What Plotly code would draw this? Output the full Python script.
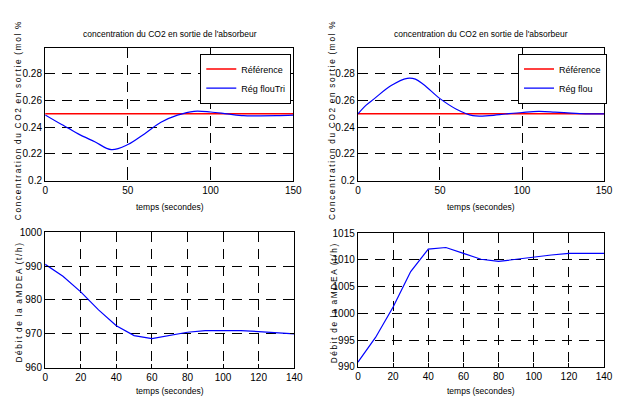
import plotly.graph_objects as go

# ---------------- data ----------------
t_top = [0, 10, 14, 20, 30, 40, 50, 60, 70, 80, 90, 100, 110, 120, 130, 140, 150]
co2_tri = [0.2492, 0.2420, 0.2393, 0.2350, 0.2291, 0.2232, 0.2270, 0.2350, 0.2437, 0.2490,
           0.2519, 0.2514, 0.2500, 0.2486, 0.2485, 0.2486, 0.2490]

t_top2 = [0, 5, 10, 20, 30, 35, 40, 50, 60, 70, 80, 90, 100, 110, 120, 130, 140, 150]
co2_flou = [0.2500, 0.2565, 0.2614, 0.2710, 0.2766, 0.2760, 0.2720, 0.2614, 0.2535, 0.2487,
            0.2487, 0.2499, 0.2510, 0.2518, 0.2513, 0.2506, 0.2500, 0.2500]

t_ref = [0, 150]
co2_ref = [0.25, 0.25]

t_bot = [0, 10, 20, 30, 40, 50, 60, 70, 80, 90, 100, 110, 120, 130, 140]
debit_tri = [990.5, 987.0, 982.4, 977.1, 972.4, 969.5, 968.6, 969.5, 970.5, 971.0,
             971.1, 971.0, 970.7, 970.3, 970.0]
debit_flou = [990.9, 995.5, 1001.2, 1007.8, 1012.0, 1012.3, 1011.2, 1010.1, 1009.7, 1010.1,
              1010.6, 1010.9, 1011.2, 1011.2, 1011.2]

top_xticks = [0, 50, 100, 150]
top_yticks = [0.2, 0.22, 0.24, 0.26, 0.28]
top_yticktext = ["0.2", "0.22", "0.24", "0.26", "0.28"]
bot_xticks = [0, 20, 40, 60, 80, 100, 120, 140]
botl_yticks = [960, 970, 980, 990, 1000]
botr_yticks = [990, 995, 1000, 1005, 1010, 1015]

title_txt = "concentration du CO2 en sortie de l'absorbeur"
xlab_txt = "temps (secondes)"
TS = "\u2009"  # thin space between letters
def spaced(words):
    return "  ".join(TS.join(list(w)) for w in words)
ylab_top = spaced(["Concentration", "du", "CO2", "en", "sortie", "(mol", "%"])
ylab_bot = spaced(["Débit", "de", "la", "aMDEA", "(t/h)"])

# ---------------- figure ----------------
W, H = 617, 403
FONT = "Liberation Sans, Arial, sans-serif"

def px(x):
    return x / W

def py(y):
    return 1 - y / H

fig = go.Figure()

fig.add_trace(go.Scatter(x=t_ref, y=co2_ref, mode="lines", name="Référence",
                         line=dict(color="#ff0000", width=1.5), xaxis="x", yaxis="y", legend="legend"))
fig.add_trace(go.Scatter(x=t_top, y=co2_tri, mode="lines", name="Rég flouTri", line_shape="spline",
                         line=dict(color="#0000ff", width=1.2), xaxis="x", yaxis="y", legend="legend"))
fig.add_trace(go.Scatter(x=t_ref, y=co2_ref, mode="lines", name="Référence",
                         line=dict(color="#ff0000", width=1.5), xaxis="x2", yaxis="y2", legend="legend2"))
fig.add_trace(go.Scatter(x=t_top2, y=co2_flou, mode="lines", name="Rég flou", line_shape="spline",
                         line=dict(color="#0000ff", width=1.2), xaxis="x2", yaxis="y2", legend="legend2"))
fig.add_trace(go.Scatter(x=t_bot, y=debit_tri, mode="lines", showlegend=False,
                         line=dict(color="#0000ff", width=1.2), xaxis="x3", yaxis="y3"))
fig.add_trace(go.Scatter(x=t_bot, y=debit_flou, mode="lines", showlegend=False,
                         line=dict(color="#0000ff", width=1.2), xaxis="x4", yaxis="y4"))

axis_common = dict(showline=True, linecolor="black", linewidth=1.3, mirror="ticks",
                   ticks="inside", ticklen=4, tickcolor="black",
                   showgrid=True, gridcolor="black", gridwidth=1, griddash="10px,7px",
                   zeroline=False, tickfont=dict(family=FONT, size=10, color="black"))

dom = {
    1: ((43, 296), (43, 180)),
    2: ((362, 613), (43, 180)),
    3: ((43, 297), (233, 373)),
    4: ((362, 613), (234, 372)),
}

def xd(k):
    a, b = dom[k][0]
    return [px(a), px(b)]

def yd(k):
    a, b = dom[k][1]
    return [py(b), py(a)]

leg_common = dict(yanchor="top", xanchor="right", bgcolor="white", bordercolor="black", borderwidth=1,
                  font=dict(family=FONT, size=9, color="black"), tracegroupgap=0, itemwidth=30)

fig.update_layout(
    width=W, height=H, margin=dict(l=0, r=0, t=0, b=0),
    paper_bgcolor="white", plot_bgcolor="white",
    xaxis=dict(domain=xd(1), anchor="y", range=[0, 150], tickvals=top_xticks, **axis_common),
    yaxis=dict(domain=yd(1), anchor="x", range=[0.2, 0.2995], tickvals=top_yticks,
               ticktext=top_yticktext, **axis_common),
    xaxis2=dict(domain=xd(2), anchor="y2", range=[0, 150], tickvals=top_xticks, **axis_common),
    yaxis2=dict(domain=yd(2), anchor="x2", range=[0.2, 0.2995], tickvals=top_yticks,
                ticktext=top_yticktext, **axis_common),
    xaxis3=dict(domain=xd(3), anchor="y3", range=[0, 140], tickvals=bot_xticks, **axis_common),
    yaxis3=dict(domain=yd(3), anchor="x3", range=[960, 1000], tickvals=botl_yticks, **axis_common),
    xaxis4=dict(domain=xd(4), anchor="y4", range=[0, 140], tickvals=bot_xticks, **axis_common),
    yaxis4=dict(domain=yd(4), anchor="x4", range=[990, 1015], tickvals=botr_yticks, **axis_common),
    legend=dict(x=px(294), y=py(49), **leg_common),
    legend2=dict(x=px(616), y=py(49), **leg_common),
)

ann_font = dict(family=FONT, size=8.5, color="black")
lab_font = dict(family=FONT, size=8.3, color="black")
annotations = []
for cx in (170, 487):
    annotations.append(dict(text=title_txt, x=px(cx), y=py(29), xref="paper", yref="paper",
                            showarrow=False, font=ann_font, xanchor="center", yanchor="middle"))
    annotations.append(dict(text=xlab_txt, x=px(cx), y=py(207), xref="paper", yref="paper",
                            showarrow=False, font=ann_font, xanchor="center", yanchor="middle"))
    annotations.append(dict(text=xlab_txt, x=px(cx), y=py(397), xref="paper", yref="paper",
                            showarrow=False, font=ann_font, xanchor="center", yanchor="middle"))
for xx, yy, txt in ((16, 118, ylab_top), (336, 118, ylab_top), (16, 306, ylab_bot), (337, 306, ylab_bot)):
    annotations.append(dict(text=txt, x=px(xx), y=py(yy), xref="paper", yref="paper", textangle=-90,
                            showarrow=False, font=lab_font, xanchor="center", yanchor="middle"))
fig.update_layout(annotations=annotations)

fig.write_html("out.html")
